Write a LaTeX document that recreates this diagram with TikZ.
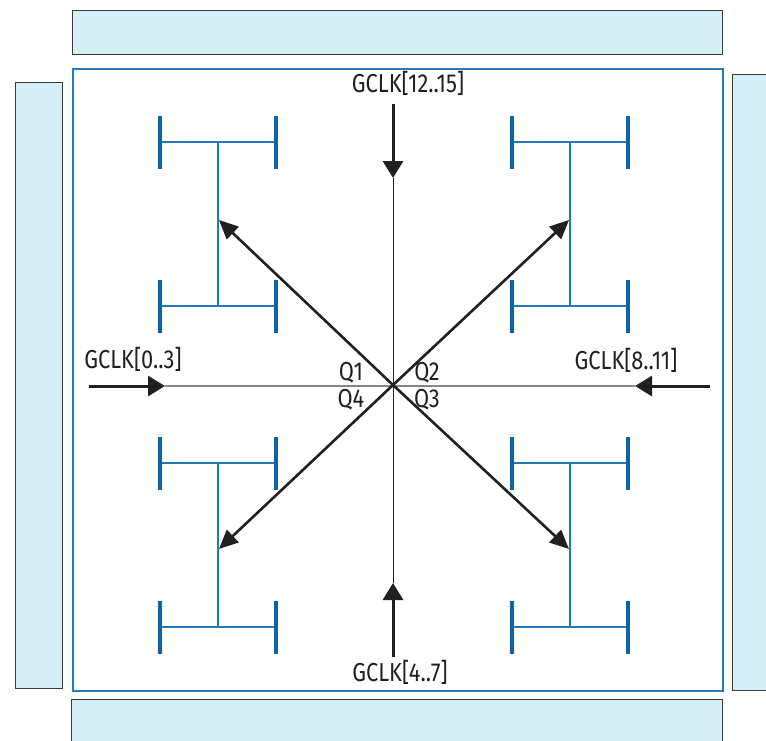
\documentclass[tikz,border=0pt]{standalone}
\usepackage{fontspec}
\setmainfont[FakeStretch=0.84]{Fira Sans}
\usetikzlibrary{arrows.meta}
\definecolor{barblue}{HTML}{0A64A8}
\definecolor{lineblue}{HTML}{2479B8}
\definecolor{boxblue}{HTML}{2A7AB8}
\definecolor{fillblue}{HTML}{D6EEF5}
\definecolor{edgegray}{HTML}{3A3A3A}
\definecolor{darkarrow}{HTML}{231F20}
\definecolor{hgray}{HTML}{858585}
\begin{document}
\begin{tikzpicture}[x=1pt,y=-1pt,
  sidebar/.style={draw=edgegray,fill=fillblue,line width=1.3pt,inner sep=0pt,anchor=north west},
  mainbox/.style={draw=boxblue,line width=1.5pt,inner sep=0pt,anchor=north west},
  thinblue/.style={draw=lineblue,line width=1.1pt},
  barline/.style={draw=barblue,line width=4.3pt},
  gclk/.style={font=\fontsize{26}{30}\selectfont,text=darkarrow,anchor=base,inner sep=0pt},
  qlabel/.style={font=\fontsize{26}{30}\selectfont,text=darkarrow,anchor=base,inner sep=0pt},
  inarrow/.style={draw=darkarrow,line width=3pt,-{Triangle[length=17pt,width=20pt]}},
  diagarrow/.style={draw=darkarrow,line width=2.6pt,-{Triangle[length=19pt,width=17pt]}},
  vline/.style={draw=darkarrow,line width=1pt},
  hline/.style={draw=hgray,line width=1.6pt}]
\clip (0,0) rectangle (766,740);
% side bars and main region
\node[sidebar,minimum width=650pt,minimum height=44pt] (topbar) at (72,10) {};
\node[sidebar,minimum width=47pt,minimum height=606pt] (leftbar) at (15,82) {};
\node[sidebar,minimum width=60pt,minimum height=616pt] (rightbar) at (732,74) {};
\node[sidebar,minimum width=651pt,minimum height=60pt] (botbar) at (71,699) {};
\node[mainbox,minimum width=650pt,minimum height=622pt] (main) at (72,68) {};
% H-trees
\foreach \cx/\cy/\n in {218/224/tl,570/224/tr,218/545/bl,570/545/br}{
  \coordinate (\n-tl) at (\cx-58,\cy-82);
  \coordinate (\n-tr) at (\cx+58,\cy-82);
  \coordinate (\n-bl) at (\cx-58,\cy+82);
  \coordinate (\n-br) at (\cx+58,\cy+82);
  \coordinate (\n-t) at (\cx,\cy-82);
  \coordinate (\n-b) at (\cx,\cy+82);
  \draw[thinblue] (\n-tl) -- (\n-tr);
  \draw[thinblue] (\n-bl) -- (\n-br);
  \draw[thinblue] (\n-t) -- (\n-b);
  \foreach \p in {tl,tr,bl,br}{
    \draw[barline] ([yshift=-26.5pt]\n-\p) -- ([yshift=26.5pt]\n-\p);
  }
}
% centre and axes
\coordinate (c) at (393,385);
\coordinate (ltail) at (89,386);
\coordinate (ltip) at (165,386);
\coordinate (rtail) at (710,386);
\coordinate (rtip) at (635,386);
\coordinate (ttail) at (393,104);
\coordinate (ttip) at (393,178);
\coordinate (btail) at (393,657);
\coordinate (btip) at (393,583);
\draw[hline] (ltip) -- (rtip);
\draw[vline] (ttip) -- (btip);
\draw[inarrow] (ltail) -- (ltip);
\draw[inarrow] (rtail) -- (rtip);
\draw[inarrow] (ttail) -- (ttip);
\draw[inarrow] (btail) -- (btip);
% diagonal arrows
\coordinate (dtl) at (219,220);
\coordinate (dtr) at (569,220);
\coordinate (dbl) at (219,549);
\coordinate (dbr) at (569,549);
\draw[diagarrow] (c) -- (dtl);
\draw[diagarrow] (c) -- (dtr);
\draw[diagarrow] (c) -- (dbl);
\draw[diagarrow] (c) -- (dbr);
% labels
\node[gclk] (g1215) at (408,92) {GCLK[12..15]};
\node[gclk] (g47) at (400,681) {GCLK[4..7]};
\node[gclk] (g03) at (133,368) {GCLK[0..3]};
\node[gclk] (g811) at (626,369) {GCLK[8..11]};
\node[qlabel] (q1) at (351,380) {Q1};
\node[qlabel] (q2) at (427,380) {Q2};
\node[qlabel] (q4) at (351,407) {Q4};
\node[qlabel] (q3) at (427,407) {Q3};
\end{tikzpicture}
\end{document}
